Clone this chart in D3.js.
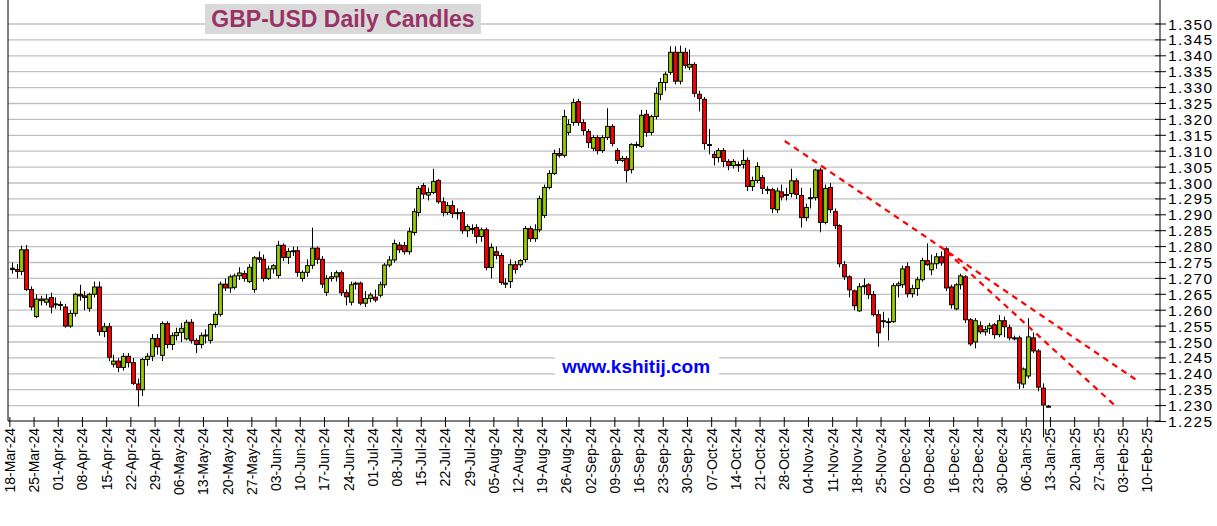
<!DOCTYPE html>
<html>
<head>
<meta charset="utf-8">
<script src="https://cdn.jsdelivr.net/npm/d3@7"></script>
<style>
  body { margin: 0; background: #fff; }
  text { font-family: Arial, "Liberation Sans", sans-serif; }
</style>
</head>
<body>
<svg id="chart" width="1217" height="526"></svg>
<script>
// daily candles, one row per weekday starting 18-Mar-24: open, high, low, close
const candles = [
[1.2732,1.2750,1.2715,1.2728],[1.2728,1.2745,1.2700,1.2722],[1.2722,1.2803,1.2710,1.2790],[1.2790,1.2805,1.2660,1.2665],[1.2665,1.2675,1.2600,1.2610],
[1.2580,1.2650,1.2575,1.2635],[1.2635,1.2645,1.2615,1.2630],[1.2625,1.2650,1.2615,1.2635],[1.2640,1.2655,1.2590,1.2610],[1.2620,1.2640,1.2605,1.2618],
[1.2618,1.2628,1.2600,1.2615],[1.2610,1.2620,1.2545,1.2550],[1.2550,1.2600,1.2545,1.2590],[1.2590,1.2655,1.2580,1.2650],[1.2650,1.2680,1.2630,1.2645],
[1.2645,1.2660,1.2600,1.2640],[1.2606,1.2655,1.2595,1.2650],[1.2650,1.2690,1.2640,1.2673],[1.2673,1.2690,1.2520,1.2533],[1.2533,1.2560,1.2515,1.2548],
[1.2548,1.2560,1.2440,1.2452],[1.2430,1.2460,1.2420,1.2440],[1.2440,1.2450,1.2405,1.2420],[1.2420,1.2465,1.2410,1.2455],[1.2455,1.2465,1.2420,1.2435],
[1.2435,1.2450,1.2365,1.2370],[1.2368,1.2385,1.2297,1.2350],[1.2350,1.2450,1.2330,1.2445],[1.2445,1.2465,1.2425,1.2455],[1.2455,1.2525,1.2440,1.2511],
[1.2511,1.2525,1.2460,1.2485],[1.2458,1.2565,1.2440,1.2558],[1.2558,1.2565,1.2480,1.2492],[1.2492,1.2530,1.2475,1.2520],[1.2520,1.2545,1.2505,1.2530],
[1.2530,1.2560,1.2500,1.2543],[1.2510,1.2570,1.2505,1.2562],[1.2562,1.2572,1.2495,1.2505],[1.2505,1.2512,1.2465,1.2492],[1.2492,1.2530,1.2480,1.2520],
[1.2520,1.2540,1.2495,1.2522],[1.2505,1.2560,1.2495,1.2555],[1.2555,1.2595,1.2545,1.2587],[1.2587,1.2690,1.2580,1.2682],[1.2682,1.2700,1.2660,1.2670],
[1.2670,1.2712,1.2655,1.2705],[1.2672,1.2715,1.2665,1.2708],[1.2708,1.2735,1.2695,1.2717],[1.2715,1.2725,1.2690,1.2700],[1.2690,1.2745,1.2685,1.2735],
[1.2665,1.2770,1.2655,1.2765],[1.2765,1.2785,1.2750,1.2760],[1.2760,1.2775,1.2690,1.2700],[1.2700,1.2740,1.2695,1.2730],[1.2730,1.2745,1.2715,1.2740],
[1.2709,1.2818,1.2700,1.2804],[1.2804,1.2810,1.2755,1.2766],[1.2766,1.2795,1.2745,1.2785],[1.2787,1.2800,1.2770,1.2787],[1.2787,1.2800,1.2705,1.2719],
[1.2700,1.2725,1.2690,1.2719],[1.2719,1.2760,1.2705,1.2740],[1.2741,1.2860,1.2730,1.2795],[1.2795,1.2800,1.2745,1.2760],[1.2760,1.2770,1.2670,1.2682],
[1.2656,1.2710,1.2645,1.2700],[1.2700,1.2720,1.2690,1.2705],[1.2705,1.2725,1.2690,1.2718],[1.2718,1.2725,1.2645,1.2655],[1.2655,1.2665,1.2615,1.2642],
[1.2625,1.2690,1.2615,1.2680],[1.2685,1.2690,1.2665,1.2685],[1.2685,1.2690,1.2615,1.2622],[1.2622,1.2660,1.2610,1.2637],[1.2637,1.2655,1.2625,1.2648],
[1.2641,1.2665,1.2625,1.2632],[1.2647,1.2690,1.2640,1.2680],[1.2680,1.2748,1.2670,1.2742],[1.2742,1.2770,1.2735,1.2758],[1.2758,1.2822,1.2750,1.2810],
[1.2805,1.2815,1.2780,1.2790],[1.2803,1.2815,1.2775,1.2784],[1.2784,1.2860,1.2775,1.2847],[1.2844,1.2920,1.2835,1.2910],[1.2907,1.2990,1.2895,1.2983],
[1.2992,1.3000,1.2950,1.2965],[1.2962,1.2985,1.2945,1.2970],[1.2970,1.3045,1.2965,1.3005],[1.3008,1.3012,1.2935,1.2941],[1.2941,1.2955,1.2895,1.2907],
[1.2907,1.2940,1.2900,1.2929],[1.2929,1.2945,1.2890,1.2904],[1.2907,1.2920,1.2885,1.2907],[1.2907,1.2915,1.2840,1.2850],[1.2850,1.2870,1.2830,1.2863],
[1.2857,1.2870,1.2840,1.2857],[1.2860,1.2870,1.2810,1.2832],[1.2832,1.2860,1.2815,1.2853],[1.2853,1.2860,1.2725,1.2734],[1.2734,1.2810,1.2700,1.2797],
[1.2784,1.2800,1.2760,1.2772],[1.2772,1.2780,1.2680,1.2687],[1.2685,1.2700,1.2670,1.2685],[1.2690,1.2760,1.2670,1.2743],[1.2743,1.2755,1.2715,1.2728],
[1.2743,1.2760,1.2735,1.2756],[1.2759,1.2865,1.2750,1.2857],[1.2857,1.2865,1.2815,1.2825],[1.2825,1.2870,1.2815,1.2853],[1.2853,1.2960,1.2845,1.2951],
[1.2898,1.2995,1.2890,1.2986],[1.2986,1.3040,1.2980,1.3030],[1.3030,1.3105,1.3025,1.3093],[1.3093,1.3110,1.3080,1.3087],[1.3087,1.3230,1.3080,1.3209],
[1.3159,1.3200,1.3150,1.3184],[1.3190,1.3265,1.3180,1.3253],[1.3256,1.3265,1.3180,1.3190],[1.3190,1.3200,1.3150,1.3165],[1.3162,1.3170,1.3110,1.3127],
[1.3109,1.3150,1.3100,1.3143],[1.3143,1.3150,1.3090,1.3102],[1.3102,1.3150,1.3095,1.3143],[1.3143,1.3235,1.3135,1.3178],[1.3178,1.3185,1.3115,1.3124],
[1.3102,1.3110,1.3060,1.3071],[1.3071,1.3085,1.3065,1.3077],[1.3077,1.3085,1.3002,1.3039],[1.3042,1.3125,1.3030,1.3121],[1.3121,1.3130,1.3110,1.3121],
[1.3115,1.3230,1.3110,1.3213],[1.3216,1.3230,1.3145,1.3159],[1.3159,1.3215,1.3150,1.3209],[1.3209,1.3300,1.3200,1.3282],[1.3279,1.3330,1.3260,1.3316],
[1.3316,1.3350,1.3290,1.3342],[1.3348,1.3430,1.3340,1.3411],[1.3411,1.3430,1.3310,1.3320],[1.3320,1.3432,1.3310,1.3411],[1.3411,1.3425,1.3360,1.3370],
[1.3364,1.3420,1.3355,1.3373],[1.3373,1.3380,1.3270,1.3282],[1.3279,1.3290,1.3225,1.3266],[1.3263,1.3270,1.3105,1.3124],[1.3121,1.3170,1.3090,1.3121],
[1.3090,1.3100,1.3055,1.3080],[1.3080,1.3110,1.3065,1.3102],[1.3102,1.3110,1.3050,1.3068],[1.3068,1.3075,1.3040,1.3055],[1.3055,1.3075,1.3045,1.3068],
[1.3058,1.3068,1.3035,1.3058],[1.3058,1.3105,1.3045,1.3071],[1.3071,1.3080,1.2975,1.2989],[1.2989,1.3020,1.2975,1.3008],[1.3008,1.3065,1.3000,1.3052],
[1.3017,1.3025,1.2965,1.2983],[1.2980,1.2990,1.2965,1.2980],[1.2979,1.2985,1.2905,1.2919],[1.2916,1.2985,1.2905,1.2975],[1.2972,1.2995,1.2945,1.2956],
[1.2964,1.2985,1.2945,1.2964],[1.2967,1.3045,1.2955,1.3007],[1.3007,1.3015,1.2950,1.2964],[1.2961,1.2985,1.2860,1.2891],[1.2891,1.2935,1.2880,1.2923],
[1.2954,1.2985,1.2920,1.2954],[1.2954,1.3045,1.2945,1.3041],[1.3041,1.3048,1.2845,1.2876],[1.2876,1.2995,1.2870,1.2983],[1.2986,1.3000,1.2905,1.2916],
[1.2910,1.2920,1.2855,1.2866],[1.2866,1.2870,1.2735,1.2746],[1.2743,1.2755,1.2695,1.2705],[1.2705,1.2710,1.2640,1.2664],[1.2661,1.2665,1.2600,1.2614],
[1.2598,1.2685,1.2595,1.2674],[1.2677,1.2700,1.2650,1.2677],[1.2680,1.2685,1.2635,1.2649],[1.2649,1.2660,1.2580,1.2586],[1.2586,1.2600,1.2485,1.2529],
[1.2567,1.2595,1.2545,1.2567],[1.2564,1.2575,1.2505,1.2564],[1.2564,1.2685,1.2560,1.2677],[1.2677,1.2690,1.2640,1.2683],[1.2680,1.2740,1.2670,1.2730],
[1.2737,1.2750,1.2640,1.2652],[1.2652,1.2680,1.2640,1.2668],[1.2668,1.2705,1.2645,1.2696],[1.2696,1.2765,1.2690,1.2756],[1.2756,1.2810,1.2740,1.2743],
[1.2727,1.2775,1.2710,1.2746],[1.2746,1.2780,1.2730,1.2768],[1.2768,1.2785,1.2740,1.2749],[1.2793,1.2798,1.2660,1.2670],[1.2673,1.2680,1.2605,1.2617],
[1.2604,1.2685,1.2600,1.2680],[1.2680,1.2715,1.2665,1.2708],[1.2705,1.2710,1.2560,1.2570],[1.2570,1.2575,1.2488,1.2494],[1.2500,1.2575,1.2480,1.2567],
[1.2551,1.2565,1.2525,1.2532],[1.2532,1.2550,1.2520,1.2539],[1.2542,1.2560,1.2525,1.2551],[1.2554,1.2560,1.2510,1.2523],[1.2523,1.2585,1.2515,1.2567],
[1.2567,1.2580,1.2515,1.2548],[1.2545,1.2555,1.2505,1.2513],[1.2513,1.2520,1.2505,1.2513],[1.2513,1.2520,1.2352,1.2371],[1.2368,1.2420,1.2355,1.2415],
[1.2393,1.2575,1.2385,1.2516],[1.2513,1.2530,1.2465,1.2472],[1.2472,1.2478,1.2345,1.2358],[1.2355,1.2370,1.2200,1.2302],[1.2298,1.2302,1.2295,1.2298]
];

const firstMonday = new Date(2024, 2, 18);
const weekCount = 48;                    // 18-Mar-24 .. 10-Feb-25
const yTicks = d3.range(1.225, 1.3501, 0.005);
// trend lines: [candle index, price] pairs
const trendLines = [
  [[159.7, 1.3132], [232.5, 1.2379]],
  [[193.2, 1.2783], [228.3, 1.2295]]
];

const svg = d3.select("#chart");
const plotLeft = 8, plotRight = 1160, plotTop = 0, plotBottom = 421;

const x = d3.scaleLinear().domain([0, 214]).range([11.8, 11.8 + 214 * 4.84]);
const y = d3.scaleLinear().domain([1.225, 1.350]).range([421.5, 24]);

// grid
svg.append("g").selectAll("line").data(yTicks.slice(1)).enter().append("line")
  .attr("x1", plotLeft).attr("x2", plotRight)
  .attr("y1", d => y(d)).attr("y2", d => y(d))
  .attr("stroke", "#c0c0c0").attr("stroke-width", 1.3);

// frame
svg.append("line").attr("x1", plotLeft).attr("x2", plotLeft).attr("y1", plotTop).attr("y2", plotBottom).attr("stroke", "#000");
svg.append("line").attr("x1", plotLeft).attr("x2", plotRight).attr("y1", plotBottom).attr("y2", plotBottom).attr("stroke", "#000");
svg.append("line").attr("x1", plotRight).attr("x2", plotRight).attr("y1", plotTop).attr("y2", plotBottom).attr("stroke", "#000");

// y axis on right
const yAxis = svg.append("g");
yAxis.selectAll("line").data(yTicks).enter().append("line")
  .attr("x1", plotRight - 5).attr("x2", plotRight + 6)
  .attr("y1", d => y(d)).attr("y2", d => y(d)).attr("stroke", "#000");
yAxis.selectAll("text").data(yTicks).enter().append("text")
  .attr("x", plotRight + 8).attr("y", d => y(d)).attr("dy", "0.36em")
  .attr("font-size", 15.5).attr("textLength", 44).text(d => d.toFixed(3));

// x axis: weekly ticks on Mondays
const fmt = d3.timeFormat("%d-%b-%y");
const weeks = d3.range(weekCount);
const xAxis = svg.append("g");
xAxis.selectAll("line").data(weeks).enter().append("line")
  .attr("x1", w => x(w * 5 - 0.4)).attr("x2", w => x(w * 5 - 0.4))
  .attr("y1", plotBottom - 4).attr("y2", plotBottom + 6).attr("stroke", "#000");
xAxis.selectAll("text").data(weeks).enter().append("text")
  .attr("transform", w => `translate(${x(w * 5 - 0.4) + 5},${plotBottom + 7}) rotate(-90)`)
  .attr("text-anchor", "end").attr("font-size", 14)
  .text(w => fmt(d3.timeDay.offset(firstMonday, w * 7)));

// candles
const g = svg.append("g");
const bw = 3.8;
candles.forEach((c, i) => {
  const [o, h, l, cl] = c;
  const cx = Math.round(x(i)) + 0.5;
  g.append("line").attr("x1", cx).attr("x2", cx)
    .attr("y1", y(h)).attr("y2", y(l)).attr("stroke", "#000").attr("stroke-width", 1);
  const bodyTop = y(Math.max(o, cl)), bodyBot = y(Math.min(o, cl));
  g.append("rect").attr("x", cx - bw / 2).attr("y", bodyTop)
    .attr("width", bw).attr("height", Math.max(bodyBot - bodyTop, 1))
    .attr("fill", cl >= o ? "#99cc00" : "#ff0000")
    .attr("stroke", "#000").attr("stroke-width", 1);
});

// dashed trend lines
svg.append("g").selectAll("line").data(trendLines).enter().append("line")
  .attr("x1", d => x(d[0][0])).attr("y1", d => y(d[0][1]))
  .attr("x2", d => x(d[1][0])).attr("y2", d => y(d[1][1]))
  .attr("stroke", "#ff0000").attr("stroke-width", 2.2).attr("stroke-dasharray", "6,5");

// title
svg.append("rect").attr("x", 205).attr("y", 4).attr("width", 276).attr("height", 30).attr("fill", "#d9d9d9");
svg.append("text").attr("x", 343).attr("y", 27).attr("text-anchor", "middle")
  .attr("font-size", 23).attr("font-weight", "bold").attr("fill", "#993366")
  .text("GBP-USD Daily Candles");

// site label
svg.append("rect").attr("x", 555).attr("y", 353).attr("width", 164).attr("height", 26).attr("fill", "#fff");
svg.append("text").attr("x", 636).attr("y", 373).attr("text-anchor", "middle")
  .attr("font-size", 19).attr("font-weight", "bold").attr("fill", "#0000ff")
  .text("www.kshitij.com");
</script>
</body>
</html>
